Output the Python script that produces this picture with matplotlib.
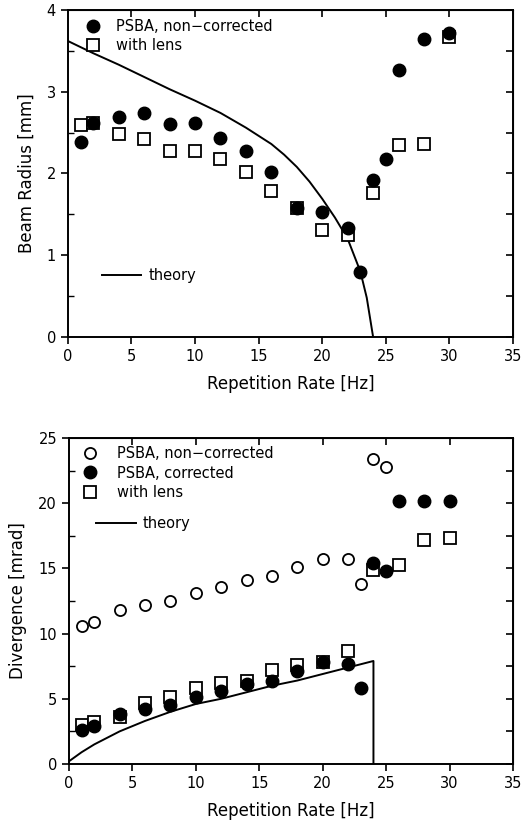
import numpy as np
import matplotlib.pyplot as plt
from matplotlib.lines import Line2D
from matplotlib.ticker import MultipleLocator

# --- top panel: beam radius ---
rate_r_nc = [1, 2, 4, 6, 8, 10, 12, 14, 16, 18, 20, 22, 23, 24, 25, 26, 28, 30]
radius_nc = [2.38, 2.62, 2.69, 2.74, 2.60, 2.62, 2.43, 2.28, 2.02, 1.58, 1.53,
             1.33, 0.80, 1.92, 2.18, 3.26, 3.65, 3.72]
rate_r_lens = [1, 2, 4, 6, 8, 10, 12, 14, 16, 18, 20, 22, 24, 26, 28, 30]
radius_lens = [2.59, 2.62, 2.48, 2.42, 2.28, 2.28, 2.18, 2.02, 1.78, 1.58, 1.31,
               1.25, 1.76, 2.35, 2.36, 3.67]
rate_r_th = [0, 2, 4, 6, 8, 10, 12, 14, 16, 17, 18, 19, 20, 21, 22, 23, 23.5, 24]
radius_th = [3.62, 3.47, 3.33, 3.18, 3.03, 2.89, 2.74, 2.56, 2.36, 2.23, 2.08,
             1.90, 1.69, 1.46, 1.20, 0.80, 0.48, 0.0]

# --- bottom panel: divergence ---
rate_d_nc = [1, 2, 4, 6, 8, 10, 12, 14, 16, 18, 20, 22, 23, 24, 25]
div_nc = [10.6, 10.9, 11.8, 12.2, 12.5, 13.1, 13.6, 14.1, 14.4, 15.1, 15.7,
          15.7, 13.8, 23.4, 22.8]
rate_d_c = [1, 2, 4, 6, 8, 10, 12, 14, 16, 18, 20, 22, 23, 24, 25, 26, 28, 30]
div_c = [2.6, 2.9, 3.8, 4.2, 4.5, 5.1, 5.6, 6.1, 6.4, 7.1, 7.8, 7.7, 5.8,
         15.4, 14.8, 20.2, 20.2, 20.2]
rate_d_lens = [1, 2, 4, 6, 8, 10, 12, 14, 16, 18, 20, 22, 24, 26, 28, 30]
div_lens = [3.0, 3.2, 3.6, 4.7, 5.1, 5.8, 6.2, 6.4, 7.2, 7.6, 7.8, 8.7,
            14.9, 15.3, 17.2, 17.3]
rate_d_th = [0, 1, 2, 4, 6, 8, 10, 12, 14, 16, 18, 20, 22, 24, 24]
div_th = [0.2, 0.9, 1.5, 2.5, 3.3, 4.0, 4.6, 5.0, 5.5, 6.0, 6.4, 6.9, 7.4, 7.9, 0.0]

plt.rcParams["font.family"] = "DejaVu Sans"
FS = 10.5

fig = plt.figure(figsize=(5.3, 8.25), dpi=100)
ax1 = fig.add_axes([0.128, 0.5915, 0.840, 0.3965])
ax2 = fig.add_axes([0.130, 0.074, 0.838, 0.395])

ms = 9
circ_f = dict(marker="o", ls="none", ms=ms, mfc="black", mec="black")
circ_o = dict(marker="o", ls="none", ms=ms - 1, mfc="white", mec="black", mew=1.3)
sq_o = dict(marker="s", ls="none", ms=ms - 1, mfc="white", mec="black", mew=1.3)


def style(ax, ymax, ymajor, yminor, ylabel):
    ax.set_xlim(0, 35)
    ax.set_ylim(0, ymax)
    ax.xaxis.set_major_locator(MultipleLocator(5))
    ax.yaxis.set_major_locator(MultipleLocator(ymajor))
    ax.yaxis.set_minor_locator(MultipleLocator(yminor))
    ax.tick_params(which="major", direction="out", length=5, width=1.2,
                   labelsize=FS, top=False, right=False)
    ax.tick_params(which="minor", direction="in", length=4, width=1.0,
                   left=True, right=False)
    for s in ax.spines.values():
        s.set_linewidth(1.4)
    # inward ticks on the top / right frame
    sx = ax.secondary_xaxis("top")
    sx.set_xticks([5, 10, 15, 20, 25, 30])
    sx.tick_params(direction="in", length=5, width=1.2, labeltop=False)
    sy = ax.secondary_yaxis("right")
    sy.yaxis.set_major_locator(MultipleLocator(ymajor))
    sy.yaxis.set_minor_locator(MultipleLocator(yminor))
    sy.tick_params(which="both", direction="in", length=5, width=1.2,
                   labelright=False)
    ax.set_xlabel("Repetition Rate [Hz]", fontsize=12, labelpad=8)
    ax.set_ylabel(ylabel, fontsize=12, labelpad=8)


# top panel
ax1.plot(rate_r_th, radius_th, color="black", lw=1.4)
ax1.plot(rate_r_lens, radius_lens, **sq_o)
ax1.plot(rate_r_nc, radius_nc, **circ_f)
style(ax1, 4, 1, 0.5, "Beam Radius [mm]")
leg1 = ax1.legend(
    handles=[Line2D([], [], **circ_f), Line2D([], [], **sq_o)],
    labels=["PSBA, non\u2212corrected", "with lens"],
    loc="upper left", bbox_to_anchor=(0.037, 0.972), frameon=False,
    fontsize=FS, handlelength=1.2, handletextpad=1.0, labelspacing=0.3,
    borderpad=0, borderaxespad=0)
ax1.add_artist(leg1)
ax1.legend(handles=[Line2D([], [], color="black", lw=1.4)], labels=["theory"],
           loc="upper left", bbox_to_anchor=(0.077, 0.212), frameon=False,
           fontsize=FS, handlelength=2.7, handletextpad=0.5,
           borderpad=0, borderaxespad=0)

# bottom panel
ax2.plot(rate_d_th, div_th, color="black", lw=1.4)
ax2.plot(rate_d_nc, div_nc, **circ_o)
ax2.plot(rate_d_lens, div_lens, **sq_o)
ax2.plot(rate_d_c, div_c, **circ_f)
style(ax2, 25, 5, 2.5, "Divergence [mrad]")
leg2 = ax2.legend(
    handles=[Line2D([], [], **circ_o), Line2D([], [], **circ_f),
             Line2D([], [], **sq_o)],
    labels=["PSBA, non\u2212corrected", "PSBA, corrected", "with lens"],
    loc="upper left", bbox_to_anchor=(0.027, 0.975), frameon=False,
    fontsize=FS, handlelength=1.2, handletextpad=1.3, labelspacing=0.3,
    borderpad=0, borderaxespad=0)
ax2.add_artist(leg2)
ax2.legend(handles=[Line2D([], [], color="black", lw=1.4)], labels=["theory"],
           loc="upper left", bbox_to_anchor=(0.062, 0.76), frameon=False,
           fontsize=FS, handlelength=2.7, handletextpad=0.5,
           borderpad=0, borderaxespad=0)

fig.savefig("out.png", dpi=100)
